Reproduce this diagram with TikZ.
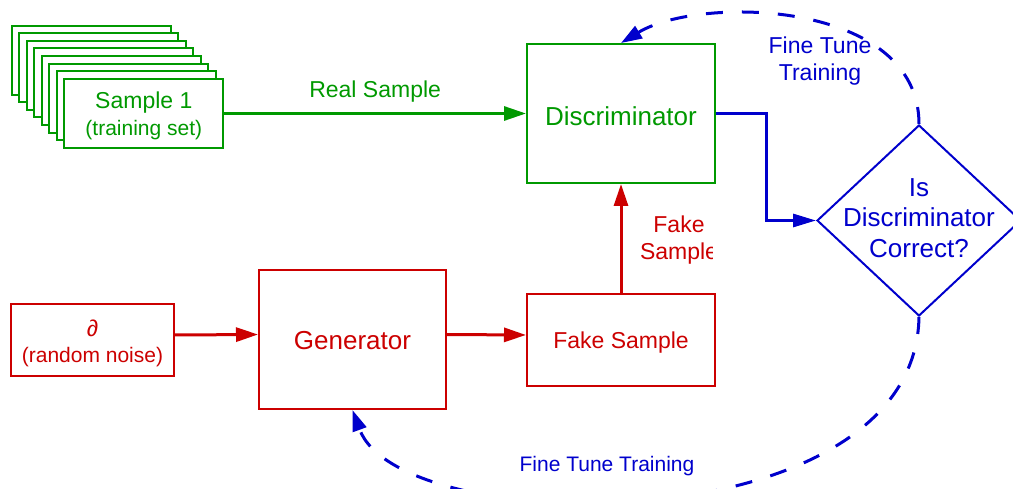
\documentclass[tikz,border=0pt]{standalone}
\usepackage{fontspec}
\setmainfont{Liberation Sans}
\usetikzlibrary{arrows.meta,shapes.geometric,calc}
\definecolor{gg}{RGB}{0,153,0}
\definecolor{rr}{RGB}{204,0,0}
\definecolor{bb}{RGB}{0,0,204}
\tikzset{
  box/.style={draw, line width=2pt, fill=white, inner sep=0pt},
  gbox/.style={box, draw=gg},
  rbox/.style={box, draw=rr},
  lbl/.style={align=center, inner sep=0pt},
  big/.style={font=\fontsize{26pt}{30.5pt}\selectfont},
  mid/.style={font=\fontsize{23pt}{27pt}\selectfont},
  small/.style={font=\fontsize{21pt}{26pt}\selectfont},
  conn/.style={line width=3pt, -{Triangle[length=22pt,width=14pt]}},
  dconn/.style={line width=3pt, draw=bb, dash pattern=on 17pt off 19pt, -{Triangle[length=21pt,width=14pt]}},
}
\begin{document}
\begin{tikzpicture}[x=1pt,y=-1pt]
\useasboundingbox (0,0) rectangle (1013,489);
% stacked training samples
\foreach \i in {0,...,6}{
  \node[gbox, minimum width=159pt, minimum height=69pt] (bk\i) at ({91.2+7.52*\i},{60.2+7.6*\i}) {};
}
\node[gbox, minimum width=159pt, minimum height=69pt] (s1) at (143.8,113.5) {};
\node[lbl, text=gg, font=\fontsize{21pt}{27pt}\selectfont] (s1t) at ([yshift=-2.5pt]s1.center)
  {{\fontsize{23pt}{27pt}\selectfont Sample 1}\\(training set)};
% discriminator
\node[gbox, minimum width=188pt, minimum height=139pt] (disc) at (621,113.5) {};
\node[lbl, big, text=gg] (disct) at ([yshift=-2.5pt]disc.center) {Discriminator};
% decision
\node[diamond, draw=bb, line width=2pt, minimum width=204pt, minimum height=191pt, inner sep=0pt] (dec) at (919,220.5) {};
\node[lbl, big, text=bb] (dect) at (919,218) {Is\\Discriminator\\Correct?};
% noise, generator, fake sample
\node[rbox, minimum width=163pt, minimum height=72pt] (noise) at (92.5,340) {};
\node[lbl, text=rr, font=\fontsize{21pt}{26pt}\selectfont] (noiset) at ([yshift=-3pt]noise.center)
  {{\fontsize{23pt}{26pt}\selectfont ∂}\\(random noise)};
\node[rbox, minimum width=187pt, minimum height=139pt] (gen) at (352.5,339.5) {};
\node[lbl, big, text=rr] (gent) at ([yshift=-1pt]gen.center) {Generator};
\node[rbox, minimum width=188pt, minimum height=92pt] (fake) at (621,340) {};
\node[lbl, mid, text=rr] (faket) at ([yshift=-2.5pt]fake.center) {Fake Sample};
% connectors
\draw[conn, gg] (s1.east) -- (disc.west)
  node[midway, yshift=22pt, mid, text=gg] (rl) {Real Sample};
\draw[conn, rr] ([yshift=5pt]noise.east) -- ([yshift=5pt]gen.west);
\draw[conn, rr] ([yshift=5pt]gen.east) -- ([yshift=5pt]fake.west);
\draw[conn, rr] (fake.north) -- (disc.south);
\begin{scope}
  \clip (disc.south west) rectangle ([xshift=-4pt]disc.east |- fake.north);
  \node[mid, text=rr, align=center] (fl) at ([xshift=58pt,yshift=-2pt]$(fake.north)!0.5!(disc.south)$) {Fake\\Sample};
\end{scope}
\draw[conn, bb, -{Triangle[length=23pt,width=13pt]}] (disc.east) -- ++(50,0) |- (dec.west);
% feedback loops
\draw[dconn] (dec.north) .. controls (919,0) and (700,-5) .. (disc.north);
\node[mid, text=bb, align=center] (tl) at (820,61) {Fine Tune\\Training};
\draw[dconn] (dec.south) .. controls (915,545) and (400,540) .. (gen.south);
\node[small, text=bb] (bl) at (607,466) {Fine Tune Training};
\end{tikzpicture}
\end{document}
